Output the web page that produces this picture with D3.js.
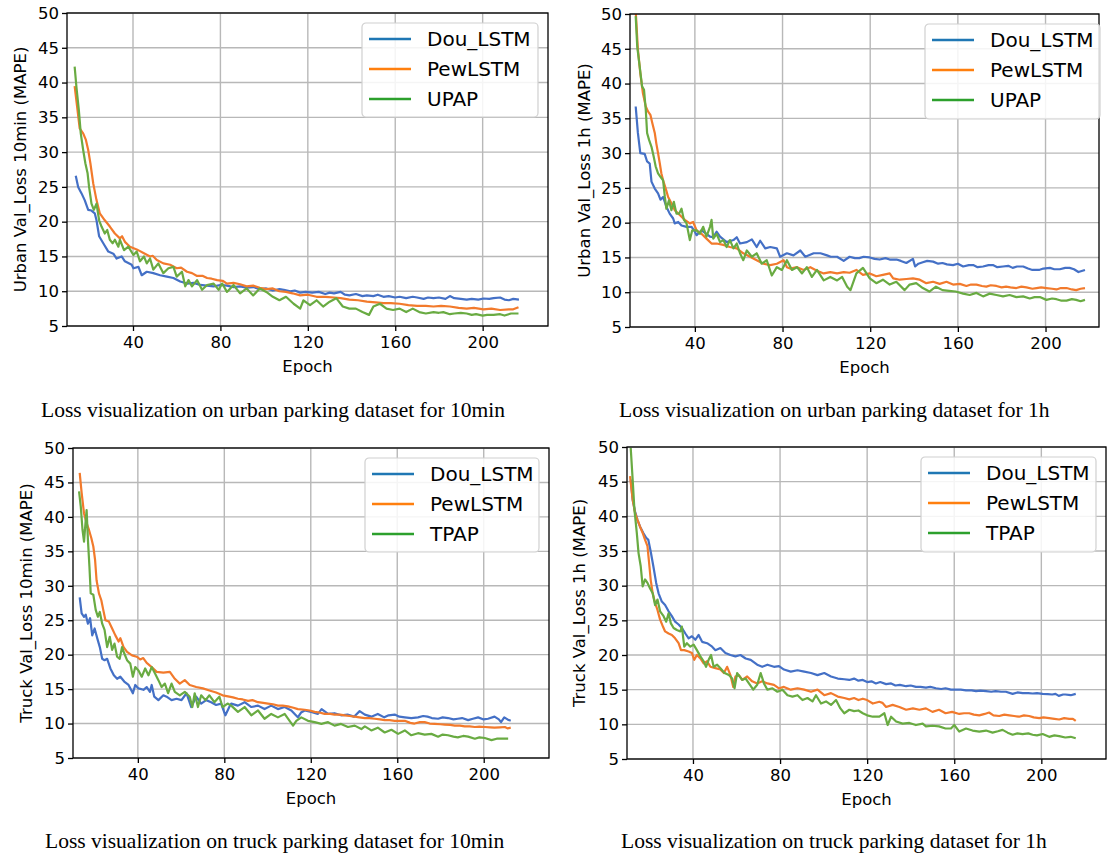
<!DOCTYPE html>
<html>
<head>
<meta charset="utf-8">
<script src="https://cdn.jsdelivr.net/npm/d3@7"></script>
<style>
  body { margin: 0; background: #fff; }
  svg { display: block; background: #fff; }
  .axis text { font-family: "DejaVu Sans", sans-serif; font-size: 16.5px; fill: #000; }
  .axis path, .axis line { stroke: #000; stroke-width: 1.3px; }
  .axis-title { font-family: "DejaVu Sans", sans-serif; font-size: 16.5px; fill: #000; }
  .legend text { font-family: "DejaVu Sans", sans-serif; font-size: 20px; fill: #000; }
  .caption { font-family: "Liberation Serif", "Times New Roman", serif; font-size: 21.5px; fill: #000; }
</style>
</head>
<body>
<svg id="chart" width="1107" height="856"></svg>
<script>
// ---- data: [epoch, MAPE] ----
const xTicks = [40, 80, 120, 160, 200];
const yTicks = [5, 10, 15, 20, 25, 30, 35, 40, 45, 50];
const urbanNames = ['Dou_LSTM', 'PewLSTM', 'UPAP'];
const truckNames = ['Dou_LSTM', 'PewLSTM', 'TPAP'];

const urban10Dou = [[13.8,26.6],[14.9,25.0],[16.4,24.1],[17.9,23.1],[19.5,21.7],[21,21.6],[22.5,21.2],[23.3,20.2],[24.5,17.9],[26.4,16.9],[28.7,15.7],[31,15.4],[32.5,14.7],[34.8,15.0],[36.3,14.3],[39.4,13.8],[40.2,13.3],[42.5,13.5],[44,12.3],[46.3,12.8],[49.3,12.6],[52.4,12.3],[55.5,12.1],[58.5,11.9],[61.6,11.4],[64.7,11.1],[67.7,11.2],[70.8,10.9],[73.8,10.8],[76.9,10.7],[80,10.9],[83,10.8],[86,10.6],[89,10.7],[92,10.5],[95,10.6],[98,10.3],[101,10.4],[104,10.1],[107,10.3],[109,10.2],[112,10.0],[114,10.1],[116.5,9.8],[119,9.9],[122,9.8],[125,9.9],[128,9.6],[130,9.8],[132,9.7],[135,9.9],[137,9.5],[139,9.4],[142,9.6],[145,9.3],[147,9.4],[150,9.3],[152,9.5],[154.6,9.2],[157,9.3],[160,9.1],[162,9.2],[165,9.0],[168,9.2],[170,9.1],[173,8.9],[175,9.1],[177.5,9.0],[180,9.1],[183,8.9],[185,9.3],[187,9.0],[190,8.9],[192.7,8.8],[195,8.9],[198,8.8],[200.4,8.95],[203,8.9],[205,9.0],[208,9.1],[210,8.8],[212,8.7],[214,8.9],[216.6,8.8]];
const urban10Pew = [[13.3,39.5],[14.4,36.6],[15.6,33.4],[17.2,32.7],[18.4,31.8],[19.5,30.3],[20.5,28.4],[21.8,25.5],[23.3,23.1],[24.8,21.2],[27.1,20.2],[29.4,19.3],[31.7,18.3],[34,17.6],[35,17.9],[36.3,17.1],[38.6,16.4],[41.7,16.0],[43,15.8],[44.8,15.5],[47.8,15.0],[49,15.1],[50.9,14.5],[53.9,14.0],[57,13.8],[60,13.3],[62,13.4],[64.7,12.8],[67,12.6],[69.3,12.2],[72,12.2],[73.9,11.9],[76,11.8],[78.5,11.6],[81,11.5],[83,11.1],[86,11.2],[89,11.0],[92,10.7],[95,10.8],[98,10.5],[101,10.3],[104,10.4],[107,10.0],[110,9.9],[113,9.7],[116.5,9.4],[120,9.5],[124,9.2],[128,9.2],[132,9.1],[135,9.0],[139,8.8],[143,8.7],[147,8.5],[151,8.4],[154.6,8.3],[158,8.3],[162,8.2],[166,8.0],[170,7.9],[174,7.9],[177.5,7.8],[181,7.9],[185,7.8],[189,7.6],[192.7,7.5],[196,7.6],[200.4,7.4],[204,7.5],[208,7.3],[212,7.4],[214,7.4],[216.4,7.7]];
const urban10Upap = [[13.3,42.3],[14.1,39.4],[15.2,36.1],[16.1,32.7],[17.2,30.3],[18.2,28.4],[19.2,27.0],[19.9,25.0],[21,22.6],[22.1,21.7],[23.3,22.6],[24.5,20.2],[25.6,19.3],[27.1,18.3],[28.2,18.8],[29.4,17.4],[30.7,16.9],[31.7,17.4],[33.3,16.4],[34,17.4],[35.9,15.9],[37.9,16.4],[40.2,15.2],[41.7,15.7],[43.2,14.3],[45,15.0],[46.3,14.0],[47.8,14.7],[49.3,13.1],[51.6,14.0],[53.9,12.6],[56.2,13.3],[58.5,13.5],[60,12.1],[62.4,12.8],[63.9,10.7],[65.4,11.6],[67,10.7],[69.3,11.6],[71.6,10.2],[73.9,10.9],[76.9,11.1],[79.2,10.2],[80.8,11.1],[83,9.9],[86,10.9],[89,9.7],[92,10.4],[95,9.4],[98,10.4],[101,9.9],[104,9.2],[107,8.7],[110,9.2],[113.5,8.2],[116.5,7.5],[118,8.7],[121,8.0],[124,8.7],[127,7.8],[130,8.5],[133,9.0],[136,7.8],[139,7.5],[142,7.5],[145,7.0],[148,6.6],[150,7.8],[153,8.2],[156,7.5],[159,7.3],[162,7.5],[165,7.0],[168,7.5],[171,7.0],[174,6.8],[177.5,7.0],[180,6.9],[182,7.0],[185,6.7],[187,6.8],[190,6.9],[192.7,6.8],[195,6.6],[197,6.7],[200,6.5],[202,6.6],[205,6.6],[208,6.7],[210,6.5],[213,6.8],[216.4,6.8]];

const urban1hDou = [[13,36.7],[14,32.9],[15.1,30.0],[17.1,29.9],[18.2,28.8],[19.4,28.5],[20.2,25.9],[21.7,24.9],[23.2,24.2],[24.3,23.3],[25.5,23.7],[27,22.3],[28.5,21.3],[30.1,20.6],[30.8,19.9],[32.4,20.1],[33.9,19.6],[36.2,19.4],[38.5,19.4],[40,18.7],[40.8,18.2],[43,18.9],[45.3,18.4],[46.9,18.0],[48.4,17.9],[49.9,18.7],[51.5,18.0],[54.5,17.2],[57.6,17.5],[59.1,17.9],[60.6,17.0],[63.7,17.2],[66,17.6],[68.2,16.5],[69.8,17.4],[72.1,16.3],[74.4,16.5],[77.4,16.3],[78.9,15.1],[82,15.6],[85,15.3],[88.1,16.0],[90.4,15.1],[94.2,15.6],[97.3,15.6],[100.3,15.3],[102,15.1],[104.9,15.1],[107.9,14.5],[110.6,15.1],[113,14.9],[115,14.9],[117,15.1],[119.8,15.0],[122,14.8],[124.3,14.7],[127,14.9],[128.9,14.7],[132,14.7],[134,14.5],[136.5,14.2],[139.5,14.8],[140.5,13.7],[142,14.1],[144,14.3],[146,14.5],[148.7,14.4],[151,14.1],[153,14.2],[155,14.0],[157.8,13.9],[160,14.1],[162.4,13.7],[165,13.9],[167,13.9],[169,13.6],[171.5,13.7],[174,13.9],[176,13.9],[178,13.6],[180.6,13.7],[183,13.8],[185,13.5],[187,13.7],[189.8,13.7],[192,13.4],[194,13.2],[197,13.2],[199,13.4],[202,13.5],[204,13.3],[206.5,13.3],[209,13.5],[211,13.5],[213,13.3],[215,12.9],[218,13.2]];
const urban1hPew = [[13,50.5],[14,44.9],[15.1,41.5],[16.3,38.6],[17.6,36.7],[18.6,36.0],[19.7,35.5],[20.6,34.3],[21.7,32.9],[22.4,31.4],[23.2,30.0],[24,28.5],[24.7,27.1],[25.5,26.1],[26.7,24.9],[27.8,23.7],[29.3,22.8],[30.8,21.8],[33.1,21.1],[35.4,20.4],[37.7,19.9],[39.2,20.1],[40.8,18.9],[43,18.4],[45.3,17.7],[47.6,17.0],[49.9,17.0],[53,16.8],[56,16.5],[59.1,16.3],[62.1,15.6],[65.2,15.1],[68.2,14.6],[71.3,14.1],[74.4,13.9],[77.4,14.1],[80.5,14.6],[82,13.6],[83.5,13.4],[86.6,13.6],[89.6,13.2],[92.7,13.6],[95.7,13.1],[98.8,12.7],[101.8,12.9],[104.9,12.7],[107.9,12.9],[110.6,12.8],[113.7,13.2],[116.7,12.5],[119.8,12.7],[122.8,12.3],[125.8,12.5],[128.9,12.7],[130.5,12.0],[133.5,11.8],[136.5,11.9],[139.5,12.0],[142.6,11.8],[145.6,11.3],[148.7,11.5],[151.7,11.2],[154.8,11.5],[157.8,11.1],[160.9,11.2],[163.9,10.9],[166,11.1],[168.5,11.1],[171,10.9],[173,10.8],[175,11.0],[177.6,10.9],[180,10.7],[182,10.8],[184,10.7],[186.7,10.6],[189,10.8],[191.3,10.7],[194,10.5],[195.9,10.6],[198,10.7],[200.4,10.6],[203,10.5],[205,10.4],[207,10.6],[209.6,10.6],[212,10.4],[214,10.3],[216,10.5],[218,10.6]];
const urban1hUpap = [[13,49.7],[13.7,45.3],[14.8,42.5],[15.9,39.6],[16.8,39.1],[17.6,36.2],[18.2,32.9],[19.1,31.9],[20.2,30.9],[21.2,29.5],[22.1,28.1],[23.2,27.1],[24.3,26.6],[25.5,26.1],[26.3,23.7],[27,22.0],[28.2,23.2],[29.3,21.8],[30.4,23.0],[31.6,21.3],[32.8,21.3],[33.9,22.0],[35,20.4],[36.2,19.9],[37.7,17.5],[38.8,18.9],[40.8,18.9],[42.3,18.4],[43.8,19.4],[45.3,18.0],[46.9,19.4],[47.6,20.4],[48.4,17.7],[49.9,18.4],[51.5,17.2],[53,17.5],[54.5,16.5],[56,17.5],[57.6,16.3],[59.1,17.0],[60.6,15.6],[62.1,14.6],[63.7,16.0],[66,15.1],[68.2,15.6],[70.5,14.1],[72.8,14.6],[75.1,12.4],[77.4,13.6],[79.7,13.2],[82,14.6],[84.3,13.2],[86.6,13.6],[88.9,12.7],[91.1,13.6],[93.4,12.2],[95.7,13.2],[98.8,11.7],[101.8,12.2],[104.9,11.7],[107.2,12.2],[109.5,10.8],[111,10.3],[113.7,12.7],[116.7,13.5],[119.8,12.0],[122.8,11.3],[125.8,11.8],[128.9,11.1],[131.9,11.5],[135.7,10.3],[138,11.1],[141,11.3],[144,10.6],[147,10.1],[150,10.8],[153,10.3],[156,10.2],[159,10.1],[162.4,9.8],[165.4,9.6],[168.5,9.9],[171.5,9.4],[174.5,9.8],[177.6,9.6],[180.6,9.4],[183.6,9.6],[186.7,9.3],[189.8,9.4],[192.8,9.1],[195,9.3],[197.4,9.3],[200.4,8.9],[203,9.1],[205,9.0],[207,8.8],[209.6,8.8],[212,9.0],[214,8.9],[216,8.7],[218,8.9]];

const truck10Dou = [[13.1,28.3],[14,26.0],[15.1,25.5],[15.9,25.8],[16.9,24.5],[17.9,25.3],[18.9,22.8],[20,23.8],[21.2,22.4],[22.4,21.1],[23.5,19.4],[24.6,19.2],[25.8,19.4],[27.3,18.0],[28.9,17.0],[30.4,16.5],[31.9,16.8],[33.7,16.1],[35.7,15.6],[37.7,14.4],[38.8,15.6],[40.3,15.1],[42.6,14.9],[44.1,15.3],[45.6,14.6],[46.4,15.6],[47.6,13.9],[49.5,13.4],[51.8,14.1],[53.3,13.9],[55.6,13.4],[57.9,13.6],[60.2,13.4],[62.5,14.4],[64.7,12.4],[67,13.9],[69.3,12.9],[71.6,13.4],[73.9,13.1],[76.2,12.7],[78.5,12.9],[80.5,11.2],[82.3,12.4],[83.2,12.9],[86.3,12.6],[89.4,13.1],[92.5,12.4],[95.6,12.6],[98.6,12.1],[101.7,12.6],[104.8,12.1],[107.9,12.4],[111,11.9],[114,10.9],[115.5,11.6],[117.2,11.9],[120.2,11.7],[123.3,11.4],[125,12.1],[128,11.4],[131,11.5],[134,11.2],[137,11.3],[140,11.0],[142.6,11.8],[145,11.3],[148,11.0],[151,11.4],[154,10.9],[156,11.2],[158.8,11.3],[161,11.0],[163.5,10.9],[166.5,10.8],[169.6,10.9],[172,11.1],[174,11.0],[176,10.8],[178.9,10.7],[181,10.9],[183.5,10.8],[186,10.6],[188,10.7],[190,10.8],[192.8,10.5],[195,10.7],[197.4,10.9],[200,10.6],[202,10.7],[205,11.0],[207,10.6],[208,10.2],[209.5,10.9],[211,10.6],[212.5,10.4]];
const truck10Pew = [[13.1,46.4],[14,43.5],[15.1,40.5],[16.3,39.1],[17.4,38.1],[18.5,36.9],[19.4,35.7],[20.2,33.8],[20.9,30.8],[22,28.9],[23.1,27.9],[24,26.5],[25,25.0],[26.6,24.8],[28.1,23.8],[29.6,22.8],[31.1,21.9],[31.9,22.4],[33.4,21.1],[35,20.4],[37.3,19.9],[39.5,19.7],[41.1,19.3],[42.5,19.5],[44.1,18.8],[46.4,18.2],[48.7,17.5],[51.8,17.4],[54.8,17.5],[57.1,16.5],[59.4,15.8],[61.7,16.3],[64,15.6],[67,15.3],[70.1,15.1],[73.1,14.8],[76.2,14.5],[79.2,14.1],[82.3,13.9],[84,13.8],[86.3,13.6],[88.5,13.5],[91,13.3],[93,13.4],[95.6,13.1],[98,13.0],[100.2,12.9],[102.5,12.8],[104.8,12.6],[107,12.6],[109.4,12.5],[112,12.3],[114,12.1],[117.2,12.0],[119.5,11.9],[121.8,11.7],[124,11.6],[126.4,11.4],[129,11.4],[131,11.3],[133.5,11.3],[135.7,11.2],[138,11.1],[140.3,11.0],[142.5,10.9],[145,10.8],[147,10.8],[149.6,10.7],[152,10.6],[154.2,10.5],[156.5,10.5],[158.8,10.4],[161,10.4],[163.5,10.4],[166,10.1],[168,10.0],[170.5,10.2],[172.7,10.2],[175,10.0],[177.3,9.95],[180,9.9],[182,9.85],[184.5,9.8],[186.6,9.7],[189,9.7],[191.2,9.6],[193.5,9.6],[195.9,9.5],[198,9.55],[200.5,9.5],[203,9.45],[205,9.4],[207.5,9.45],[209.8,9.5],[211,9.3],[212.5,9.4]];
const truck10Tpap = [[12.8,43.7],[13.6,41.5],[14.4,38.1],[15.1,36.4],[15.9,39.6],[16.3,41.0],[16.9,36.7],[17.6,32.8],[18.2,28.9],[19.4,28.7],[20.5,26.5],[21.5,25.5],[22.4,26.2],[23.5,24.5],[24.6,23.6],[25.8,21.1],[27,22.6],[28.1,20.7],[29.2,21.6],[30.4,19.7],[31.6,19.4],[32.7,21.1],[33.7,20.2],[35,19.2],[36.5,18.7],[37.7,16.8],[38.8,18.2],[40.3,17.7],[41.8,16.8],[43.4,18.0],[44.9,17.0],[46.4,18.2],[47.9,17.3],[49.5,16.3],[51,15.3],[52.5,15.8],[54,14.4],[55.6,15.8],[57.1,14.6],[59.4,14.1],[61.7,14.6],[64,13.9],[65.2,12.4],[66.3,14.4],[67.8,12.4],[69.3,14.1],[71.3,13.4],[73.1,14.1],[75.4,13.1],[77.7,13.9],[79.2,12.4],[81.5,12.9],[83.2,12.6],[86.3,11.7],[89.4,12.4],[92.5,11.2],[95.6,11.9],[98.6,10.7],[101.7,11.4],[104.8,10.9],[107.9,11.4],[110.2,10.4],[111.8,9.7],[113.3,10.4],[115.6,10.9],[118.7,10.4],[121.8,10.2],[124.9,9.95],[128,10.2],[131,9.7],[134,9.95],[137.2,9.5],[140.3,9.7],[143.4,9.2],[145,9.6],[148,9.0],[151,9.4],[154.2,8.7],[157.3,9.1],[160.4,8.5],[163.5,9.0],[166.5,8.3],[169.6,8.6],[172.7,8.4],[175.8,8.5],[178.9,8.1],[181,8.4],[183.5,8.3],[186,8.1],[188,8.0],[190.5,8.2],[192.8,8.1],[195.9,7.8],[198,8.0],[200.5,7.9],[203.6,7.6],[206,7.8],[208.2,7.8],[211.3,7.8]];

const truck1hDou = [[11.4,45.3],[12.3,42.4],[13.4,40.7],[14.5,39.5],[15.7,38.5],[17.2,37.6],[18.5,36.9],[19.5,36.6],[20.6,34.9],[21.8,32.8],[23.1,30.4],[24.2,28.9],[25.7,27.7],[27.2,27.2],[28.8,26.3],[30.3,25.6],[31.8,24.8],[33.4,24.4],[34.9,23.9],[36.5,23.1],[38,22.4],[39.5,22.7],[41.1,22.2],[42.6,22.9],[44.2,21.9],[46.5,21.7],[48.8,21.2],[50.3,20.7],[52.6,21.0],[54.9,20.3],[57.2,20.0],[59.5,19.8],[61.8,20.0],[64.2,19.5],[66.5,19.3],[69.5,18.6],[71.8,18.3],[74.2,18.6],[77.2,18.3],[79.5,18.4],[81.8,17.9],[84.9,17.6],[88,17.8],[91.1,17.6],[94.2,17.4],[97.2,17.1],[100.3,17.4],[103.4,16.9],[106.5,16.6],[109.5,16.5],[111.8,16.4],[114,16.6],[116,16.3],[118,16.4],[120,16.1],[122,16.2],[124,15.9],[126,16.1],[128.7,15.8],[131,15.9],[133,15.6],[135,15.7],[137.9,15.5],[140,15.6],[142.4,15.4],[144.5,15.4],[147,15.3],[149,15.4],[151.6,15.2],[154,15.1],[156,15.2],[158.5,15.0],[160.8,15.0],[163,15.0],[165.4,14.9],[168,14.9],[170,14.8],[172,14.85],[174.6,14.8],[177,14.7],[179,14.8],[181.5,14.7],[183.7,14.7],[186.8,14.4],[189,14.6],[191.4,14.5],[194,14.5],[196,14.45],[198,14.5],[200.6,14.4],[203,14.35],[205,14.3],[206.5,14.4],[208,14.1],[210,14.3],[211,14.3],[213.5,14.2],[215.8,14.4]];
const truck1hPew = [[11.1,45.8],[12.3,42.4],[13.4,40.5],[14.5,39.5],[15.7,38.5],[16.9,37.6],[18,36.6],[19.1,35.7],[20,32.8],[20.6,30.8],[21.5,28.9],[22.6,27.5],[23.7,26.5],[24.9,25.1],[26.2,24.1],[27.2,23.4],[28.8,23.1],[30.3,22.9],[31.8,22.4],[33.4,21.7],[34.5,20.7],[36,20.7],[38,20.5],[39.5,20.3],[40.6,19.3],[41.8,20.0],[43.4,19.5],[44.9,18.8],[46.5,19.1],[48,18.3],[50.3,18.1],[52.6,17.9],[54.2,17.4],[55.7,18.3],[57.2,17.1],[58.5,15.4],[59.5,16.9],[61.1,17.1],[62.6,16.4],[64.9,16.9],[67.2,16.2],[69.5,15.9],[71.8,16.2],[74.2,15.9],[77.2,15.7],[79.5,15.2],[81.8,15.4],[84.9,15.0],[88,15.2],[91.1,15.0],[94.2,14.7],[97.2,15.0],[100.3,14.2],[103.4,14.5],[106.5,14.0],[109.5,13.8],[111.8,13.6],[114,13.8],[116,13.5],[118,13.7],[120,13.5],[122.6,13.0],[125.6,13.25],[127,13.1],[128.7,12.5],[131.7,12.8],[134.8,12.5],[137.9,12.1],[141,12.3],[144,12.1],[147,12.3],[150,11.8],[153,12.1],[156,11.6],[159,11.8],[162.3,11.5],[164.5,11.6],[166.9,11.6],[169,11.4],[171.5,11.3],[174,11.5],[176,11.7],[178,11.3],[180.7,11.2],[183,11.4],[185.3,11.3],[187.5,11.2],[189.8,11.1],[192,11.3],[194.4,11.2],[196.5,11.0],[199,10.9],[201,11.0],[203.6,10.9],[206,10.8],[208.2,10.7],[210.5,10.9],[212.8,10.8],[214.5,10.8],[215.8,10.5]];
const truck1hTpap = [[11.4,49.9],[12.3,45.3],[13.1,41.0],[14.2,37.6],[15,34.7],[16,32.8],[16.9,29.9],[18,30.9],[19.1,30.4],[20.3,29.6],[21.5,28.9],[22.6,27.2],[23.7,28.0],[24.9,26.3],[26.5,25.6],[27.7,24.8],[28.8,26.0],[29.8,24.6],[31.1,23.9],[32.6,23.6],[34.2,23.4],[34.9,24.1],[36,21.2],[37.2,21.7],[38.8,21.2],[40.3,21.5],[41.8,20.7],[43.4,19.8],[44.9,19.1],[46,18.3],[47.2,19.3],[48.3,20.0],[49.5,18.3],[51.1,18.6],[52.6,18.1],[54.5,17.4],[56.5,17.1],[58,16.6],[59.1,15.2],[60.3,17.4],[62.6,16.4],[64.2,16.6],[65.7,15.9],[67.7,15.0],[69.5,15.7],[71.1,17.4],[72.6,15.9],[74.2,15.0],[76.5,15.2],[78.8,14.7],[81.1,15.0],[83.4,14.2],[85.7,14.0],[88,14.2],[90.3,13.5],[92.6,13.8],[94.9,13.3],[96.5,14.2],[98.8,13.0],[101.1,13.3],[103.4,12.8],[105.7,13.5],[107.7,12.3],[109.5,11.6],[111.8,12.1],[114,11.9],[116,12.0],[118,11.6],[120,11.3],[122.6,11.1],[125.6,11.1],[127.9,11.6],[129.4,9.9],[131,11.1],[133.3,10.4],[136.3,10.1],[139.4,10.2],[142.4,9.9],[145.5,10.1],[147,9.7],[150,9.8],[153,9.7],[156,9.4],[158.5,9.4],[160,9.9],[162.3,8.95],[165.4,9.4],[168.4,9.1],[171.5,8.95],[174.6,9.1],[177.6,8.8],[180,9.0],[182.2,9.2],[184.5,8.8],[186.8,8.5],[189,8.7],[191.4,8.6],[194,8.7],[196,8.5],[198,8.4],[200.6,8.6],[203.6,8.2],[206,8.4],[208.2,8.3],[211,8.1],[213.5,8.2],[215.8,8.0]];

// line colours as they appear in the plot, and in the legend
const lineColors = ['#4470c6', '#f27a2c', '#69ab42'];
const legendColors = ['#1f77b4', '#ff7f0e', '#2ca02c'];

class LossChart {

  constructor(_config, _data) {
    this.config = {
      parentElement: _config.parentElement,
      left: _config.left,
      top: _config.top,
      width: _config.width,
      height: _config.height,
      xDomain: _config.xDomain,
      yLabel: _config.yLabel,
      yLabelX: _config.yLabelX,
      legend: _config.legend,
      caption: _config.caption,
      captionX: _config.captionX,
      captionY: _config.captionY
    }
    this.data = _data;
    this.initVis();
  }

  initVis() {
    let vis = this;
    const c = vis.config;

    vis.xScale = d3.scaleLinear().domain(c.xDomain).range([0, c.width]);
    vis.yScale = d3.scaleLinear().domain([5, 50]).range([c.height, 0]);

    vis.xAxis = d3.axisBottom(vis.xScale).tickValues(xTicks).tickSize(5).tickPadding(5).tickSizeOuter(0);
    vis.yAxis = d3.axisLeft(vis.yScale).tickValues(yTicks).tickSize(5).tickPadding(3).tickSizeOuter(0);

    vis.svg = d3.select(c.parentElement);
    vis.chart = vis.svg.append('g')
        .attr('transform', `translate(${c.left},${c.top})`);

    // grid
    vis.chart.append('g').selectAll('line.gx')
      .data(xTicks)
      .join('line')
        .attr('x1', d => vis.xScale(d)).attr('x2', d => vis.xScale(d))
        .attr('y1', 0).attr('y2', c.height)
        .attr('stroke', '#b8b8b8').attr('stroke-width', 1.4);
    vis.chart.append('g').selectAll('line.gy')
      .data(yTicks)
      .join('line')
        .attr('x1', 0).attr('x2', c.width)
        .attr('y1', d => vis.yScale(d)).attr('y2', d => vis.yScale(d))
        .attr('stroke', '#b8b8b8').attr('stroke-width', 1.4);

    const clipId = 'clip-' + c.parentElement.replace('#', '') + '-' + c.left + '-' + c.top;
    vis.svg.append('clipPath').attr('id', clipId)
      .append('rect').attr('width', c.width).attr('height', c.height);
    vis.lines = vis.chart.append('g').attr('clip-path', `url(#${clipId})`);

    vis.xAxisG = vis.chart.append('g')
        .attr('class', 'axis x-axis')
        .attr('transform', `translate(0,${c.height})`);
    vis.yAxisG = vis.chart.append('g')
        .attr('class', 'axis y-axis');

    // frame
    vis.chart.append('rect')
        .attr('width', c.width).attr('height', c.height)
        .attr('fill', 'none').attr('stroke', '#000').attr('stroke-width', 1.3);

    vis.chart.append('text')
        .attr('class', 'axis-title')
        .attr('x', c.width / 2)
        .attr('y', c.height + 45.5)
        .attr('text-anchor', 'middle')
        .text('Epoch');

    vis.svg.append('text')
        .attr('class', 'axis-title')
        .attr('transform', `translate(${c.yLabelX},${c.top + c.height / 2}) rotate(-90)`)
        .attr('text-anchor', 'middle')
        .text(c.yLabel);

    vis.svg.append('text')
        .attr('class', 'caption')
        .attr('x', c.captionX)
        .attr('y', c.captionY)
        .text(c.caption);

    vis.renderVis();
  }

  renderVis() {
    let vis = this;
    const c = vis.config;

    const line = d3.line()
        .x(d => vis.xScale(d[0]))
        .y(d => vis.yScale(d[1]));

    vis.lines.selectAll('.series')
        .data(vis.data)
      .join('path')
        .attr('class', 'series')
        .attr('fill', 'none')
        .attr('stroke', (d, i) => lineColors[i])
        .attr('stroke-width', 2.2)
        .attr('stroke-linejoin', 'round')
        .attr('d', d => line(d.values));

    vis.xAxisG.call(vis.xAxis);
    vis.yAxisG.call(vis.yAxis);
    vis.chart.selectAll('.axis .domain').remove();

    // legend
    const lg = vis.svg.append('g')
        .attr('class', 'legend')
        .attr('transform', `translate(${c.legend.x},${c.legend.y})`);
    lg.append('rect')
        .attr('width', c.legend.w).attr('height', c.legend.h)
        .attr('rx', 4)
        .attr('fill', '#fff').attr('fill-opacity', 0.85)
        .attr('stroke', '#d0d0d0').attr('stroke-width', 1.2);
    const rows = lg.selectAll('.row')
        .data(vis.data)
      .join('g')
        .attr('class', 'row')
        .attr('transform', (d, i) => `translate(0,${16 + i * 30})`);
    rows.append('line')
        .attr('x1', 7).attr('x2', 49)
        .attr('stroke', (d, i) => legendColors[i])
        .attr('stroke-width', 2.4);
    rows.append('text')
        .attr('x', 65)
        .attr('dy', '0.36em')
        .text(d => d.name);
  }
}

const panels = [
  { cfg: { left: 67, top: 13, width: 481, height: 313, xDomain: [9.8, 229.9],
      yLabel: 'Urban Val_Loss 10min (MAPE)', yLabelX: 26,
      legend: {x: 362, y: 23, w: 176, h: 94},
      caption: 'Loss visualization on urban parking dataset for 10min', captionX: 41, captionY: 417 },
    series: [urban10Dou, urban10Pew, urban10Upap], names: urbanNames },
  { cfg: { left: 630, top: 14, width: 469, height: 313, xDomain: [10.4, 224.4],
      yLabel: 'Urban Val_Loss 1h (MAPE)', yLabelX: 590,
      legend: {x: 925, y: 24, w: 175, h: 95},
      caption: 'Loss visualization on urban parking dataset for 1h', captionX: 619, captionY: 417 },
    series: [urban1hDou, urban1hPew, urban1hUpap], names: urbanNames },
  { cfg: { left: 73, top: 448, width: 476, height: 310, xDomain: [10.0, 230.2],
      yLabel: 'Truck Val_Loss 10min (MAPE)', yLabelX: 32,
      legend: {x: 365, y: 458, w: 174, h: 94},
      caption: 'Loss visualization on truck parking dataset for 10min', captionX: 45, captionY: 848 },
    series: [truck10Dou, truck10Pew, truck10Tpap], names: truckNames },
  { cfg: { left: 627, top: 447, width: 479, height: 312, xDomain: [9.7, 229.7],
      yLabel: 'Truck Val_Loss 1h (MAPE)', yLabelX: 585,
      legend: {x: 921, y: 457, w: 175, h: 95},
      caption: 'Loss visualization on truck parking dataset for 1h', captionX: 621, captionY: 848 },
    series: [truck1hDou, truck1hPew, truck1hTpap], names: truckNames }
];

panels.forEach(p => {
  const data = p.series.map((s, i) => ({ name: p.names[i], values: s }));
  new LossChart(Object.assign({ parentElement: '#chart' }, p.cfg), data);
});
</script>
</body>
</html>
